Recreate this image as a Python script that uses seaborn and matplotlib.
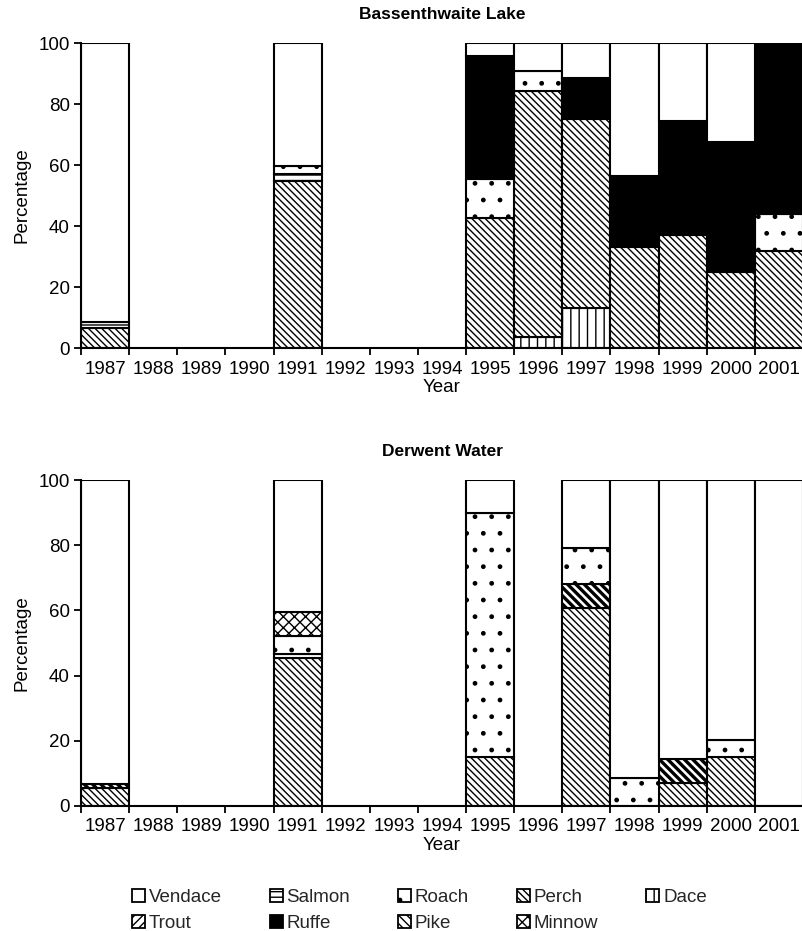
import numpy as np
import pandas as pd
import matplotlib
matplotlib.use("Agg")
import matplotlib.pyplot as plt
import matplotlib.patches as mpatches
import seaborn as sns

years = ["1987", "1988", "1989", "1990", "1991", "1992", "1993", "1994",
         "1995", "1996", "1997", "1998", "1999", "2000", "2001"]

# stacking order from bottom to top
species = ["Dace", "Perch", "Salmon", "Pike", "Roach", "Minnow", "Trout", "Ruffe", "Vendace"]

# Bassenthwaite Lake (percentages)
bass_dace    = [0, 0, 0, 0, 0,    0, 0, 0, 0,    3.7,  13.0, 0,    0,    0,    0]
bass_perch   = [6.6, 0, 0, 0, 54.8, 0, 0, 0, 42.7, 80.7, 62.0, 33.2, 37.0, 25.0, 31.9]
bass_salmon  = [1.8, 0, 0, 0, 2.1,  0, 0, 0, 0,    0,    0,    0,    0,    0,    0]
bass_pike    = [0, 0, 0, 0, 0,    0, 0, 0, 0,    0,    0,    0,    0,    0,    0]
bass_roach   = [0, 0, 0, 0, 2.8,  0, 0, 0, 12.7, 6.5,  0,    0,    0,    0,    11.9]
bass_minnow  = [0, 0, 0, 0, 0,    0, 0, 0, 0,    0,    0,    0,    0,    0,    0]
bass_trout   = [0, 0, 0, 0, 0,    0, 0, 0, 0,    0,    0,    0,    0,    0,    0]
bass_ruffe   = [0, 0, 0, 0, 0,    0, 0, 0, 40.3, 0,    13.4, 23.2, 37.5, 42.4, 56.2]
bass_vendace = [91.6, 0, 0, 0, 40.3, 0, 0, 0, 4.3, 9.1, 11.6, 43.6, 25.5, 32.6, 0]

# Derwent Water (percentages)
der_dace    = [0, 0, 0, 0, 0,    0, 0, 0, 0,    0, 0,    0,    0,    0,    0]
der_perch   = [5.4, 0, 0, 0, 45.3, 0, 0, 0, 15.0, 0, 60.8, 0,    7.0,  14.9, 0]
der_salmon  = [0, 0, 0, 0, 1.3,  0, 0, 0, 0,    0, 0,    0,    0,    0,    0]
der_pike    = [1.2, 0, 0, 0, 0,    0, 0, 0, 0,    0, 7.2,  0,    7.3,  0,    0]
der_roach   = [0, 0, 0, 0, 5.6,  0, 0, 0, 75.0, 0, 11.0, 8.5,  0,    5.3,  0]
der_minnow  = [0, 0, 0, 0, 7.4,  0, 0, 0, 0,    0, 0,    0,    0,    0,    0]
der_trout   = [0, 0, 0, 0, 0,    0, 0, 0, 0,    0, 0,    0,    0,    0,    0]
der_ruffe   = [0, 0, 0, 0, 0,    0, 0, 0, 0,    0, 0,    0,    0,    0,    0]
der_vendace = [93.4, 0, 0, 0, 40.4, 0, 0, 0, 10.0, 0, 21.0, 91.5, 85.7, 79.8, 100.0]

bass = dict(Dace=bass_dace, Perch=bass_perch, Salmon=bass_salmon, Pike=bass_pike,
            Roach=bass_roach, Minnow=bass_minnow, Trout=bass_trout, Ruffe=bass_ruffe,
            Vendace=bass_vendace)
der = dict(Dace=der_dace, Perch=der_perch, Salmon=der_salmon, Pike=der_pike,
           Roach=der_roach, Minnow=der_minnow, Trout=der_trout, Ruffe=der_ruffe,
           Vendace=der_vendace)

styles = {
    "Vendace": dict(color="white", hatch=None, hlw=1.0),
    "Salmon":  dict(color="white", hatch="---", hlw=1.0),
    "Roach":   dict(color="white", hatch=".", hlw=1.0),
    "Perch":   dict(color="white", hatch="\\\\\\\\\\", hlw=1.0),
    "Dace":    dict(color="white", hatch="||", hlw=1.0),
    "Trout":   dict(color="white", hatch="////", hlw=1.0),
    "Ruffe":   dict(color="black", hatch=None, hlw=1.0),
    "Pike":    dict(color="white", hatch="\\\\\\\\", hlw=2.4),
    "Minnow":  dict(color="white", hatch="xxx", hlw=1.0),
}

FS = 13.5

sns.set_theme(style="white")
plt.rcParams["font.family"] = ["Liberation Sans", "DejaVu Sans"]
plt.rcParams["hatch.color"] = "black"

fig = plt.figure(figsize=(8.03, 9.31), dpi=100)
ax1 = fig.add_axes([0.1009, 0.6262, 0.8991, 0.3276])
ax2 = fig.add_axes([0.1009, 0.1343, 0.8991, 0.3501])


def draw(ax, data, title):
    df = pd.DataFrame(data, index=years)
    bottom = np.zeros(len(years))
    for sp in species:
        st = styles[sp]
        plt.rcParams["hatch.linewidth"] = st["hlw"]
        vals = df[sp].values
        d = pd.DataFrame({"Year": years, "Pct": vals})
        sns.barplot(data=d, x="Year", y="Pct", order=years, ax=ax, bottom=bottom,
                    color=st["color"], saturation=1, width=1.0,
                    edgecolor="black", linewidth=1.5, hatch=st["hatch"], errorbar=None)
        bottom = bottom + vals
    plt.rcParams["hatch.linewidth"] = 1.0
    # drop empty (zero-height) segments so they leave no stray edge lines
    for p in list(ax.patches):
        if p.get_height() == 0:
            p.remove()
    ax.set_xlim(-0.5, len(years) - 0.5)
    ax.set_ylim(0, 100)
    ax.set_yticks([0, 20, 40, 60, 80, 100])
    ax.tick_params(axis="y", which="major", direction="out", length=5, width=1.3,
                   labelsize=FS, left=True, colors="black", pad=3)
    ax.set_xticks(range(len(years)))
    ax.set_xticklabels(years)
    ax.set_xticks(np.arange(-0.5, len(years), 1.0), minor=True)
    ax.tick_params(axis="x", which="major", length=0, labelsize=FS, pad=9, colors="black")
    ax.tick_params(axis="x", which="minor", direction="out", length=5, width=1.3,
                   bottom=True, colors="black")
    for s in ["top", "right"]:
        ax.spines[s].set_visible(False)
    for s in ["left", "bottom"]:
        ax.spines[s].set_color("black")
        ax.spines[s].set_linewidth(1.5)
    ax.set_xlabel("Year", fontsize=FS, labelpad=1, color="black")
    ax.set_ylabel("Percentage", fontsize=FS, labelpad=6, color="black")
    ax.set_title(title, fontsize=12.5, fontweight="bold", pad=17, color="black")


draw(ax1, bass, "Bassenthwaite Lake")
draw(ax2, der, "Derwent Water")

legend_order = ["Vendace", "Trout", "Salmon", "Ruffe", "Roach", "Pike", "Perch", "Minnow", "Dace"]
handles = []
for sp in legend_order:
    st = styles[sp]
    plt.rcParams["hatch.linewidth"] = st["hlw"]
    handles.append(mpatches.Patch(facecolor=st["color"], edgecolor="black",
                                  hatch=st["hatch"], linewidth=1.3, label=sp))
plt.rcParams["hatch.linewidth"] = 1.0
fig.legend(handles=handles, labels=legend_order, ncol=5, loc="upper left",
           bbox_to_anchor=(0.155, 0.053), frameon=False, fontsize=FS,
           handlelength=0.7, handleheight=0.7, handletextpad=0.2,
           columnspacing=2.55, labelspacing=0.45, borderaxespad=0)

fig.savefig("out.png", dpi=100, facecolor="white")
